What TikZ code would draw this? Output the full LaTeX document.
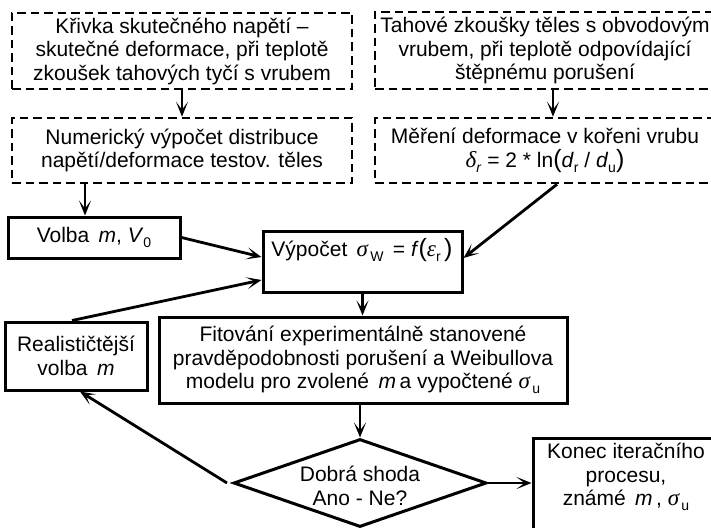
\documentclass[tikz,border=0pt]{standalone}
\usepackage{fontspec}
\setmainfont{Liberation Sans}
\newfontfamily\grk{Liberation Serif}
\usetikzlibrary{arrows.meta,shapes.geometric}
\newcommand\gk[1]{{\grk\itshape\fontsize{23}{23}\selectfont #1}}
\newcommand\lo[1]{\raisebox{-0.25em}{\fontsize{14}{14}\selectfont #1}}
\newcommand\bigpar[1]{{\fontsize{25}{25}\selectfont #1}}
\tikzset{
  txt/.style={font=\fontsize{21}{23.5}\selectfont, align=center, inner sep=0pt},
  dbox/.style={txt, draw, line width=2.6pt, dash pattern=on 8.5pt off 5pt, minimum width=340pt},
  sbox/.style={txt, draw, line width=3pt},
  arr/.style={-{Stealth[length=15pt,width=12pt,inset=8pt]}, line width=2.8pt},
}
\begin{document}
\begin{tikzpicture}[x=1pt,y=-1pt]
\useasboundingbox (0,0) rectangle (711,527);
\clip (0,0) rectangle (711,527);
\node[dbox, minimum height=76pt] (b1) at (182,51)
  {Křivka skutečného napětí –\\skutečné deformace, při teplotě\\zkoušek tahových tyčí s vrubem};
\node[dbox, minimum height=65pt] (b2) at (182,150.5)
  {Numerický výpočet distribuce\\napětí/deformace testov. těles};
\node[dbox, minimum height=77pt] (b3) at (545,50.5)
  {Tahové zkoušky těles s obvodovým\\vrubem, při teplotě odpovídající\\štěpnému porušení};
\node[dbox, minimum height=65pt] (b4) at (545,150.5)
  {Měření deformace v kořeni vrubu\\\gk{δ}\lo{\textit{r}} = 2 * ln\bigpar{(}\textit{d}\lo{r} / \textit{d}\lo{u}\bigpar{)}};
\node[sbox, minimum width=172pt, minimum height=41pt] (volba) at (94,237.5)
  {Volba \,\textit{m}, \textit{V}\lo{0}};
\node[sbox, minimum width=199pt, minimum height=61pt] (vyp) at (362.5,261.5) {};
\node[txt] (vyptext) at (362,250)
  {Výpočet \,\gk{σ}\lo{\,W} \,= \textit{f}\bigpar{(}\gk{ε}\lo{r}\,\bigpar{)}};
\node[sbox, minimum width=408pt, minimum height=86pt] (fit) at (363,360)
  {Fitování experimentálně stanovené\\pravděpodobnosti porušení a Weibullova\\modelu pro zvolené \,\textit{m}\,a vypočtené \gk{σ}\lo{\,u}};
\node[sbox, minimum width=142pt, minimum height=68pt] (real) at (76,356)
  {Realističtější\\volba \,\textit{m}};
\node[txt, draw, shape=diamond, line width=3pt, minimum width=253pt, minimum height=88pt] (dia) at (360,483) {};
\node[txt] (diatext) at (360,486) {Dobrá shoda\\Ano - Ne?};
\node[sbox, minimum width=186pt, minimum height=100pt] (konec) at (626,488) {};
\node[txt] (konectext) at (626,477)
  {Konec iteračního\\procesu,\\známé \,\textit{m}\,, \gk{σ}\lo{\,u}};
\draw[arr] (b1.south) -- (b2.north);
\draw[arr] ([xshift=8pt]b3.south) -- ([xshift=8pt]b4.north);
\draw[arr] ([xshift=-97pt]b2.south) -- ([xshift=-9pt]volba.north);
\draw[arr] ([xshift=12pt]b4.south) -- ([yshift=3.5pt]vyp.east);
\draw[arr] (volba.east) -- ([yshift=4.5pt]vyp.west);
\draw[arr] ([xshift=-4pt]real.north) -- ([yshift=-18.5pt]vyp.west);
\draw[arr] (vyp.south) -- (vyp.south |- fit.north);
\draw[arr] (dia.north |- fit.south) -- (dia.north);
\draw[arr] ([xshift=-5pt]dia.west) -- ([xshift=4pt]real.south);
\draw[arr] (dia.east) -- (dia.east -| konec.west);
\end{tikzpicture}
\end{document}
